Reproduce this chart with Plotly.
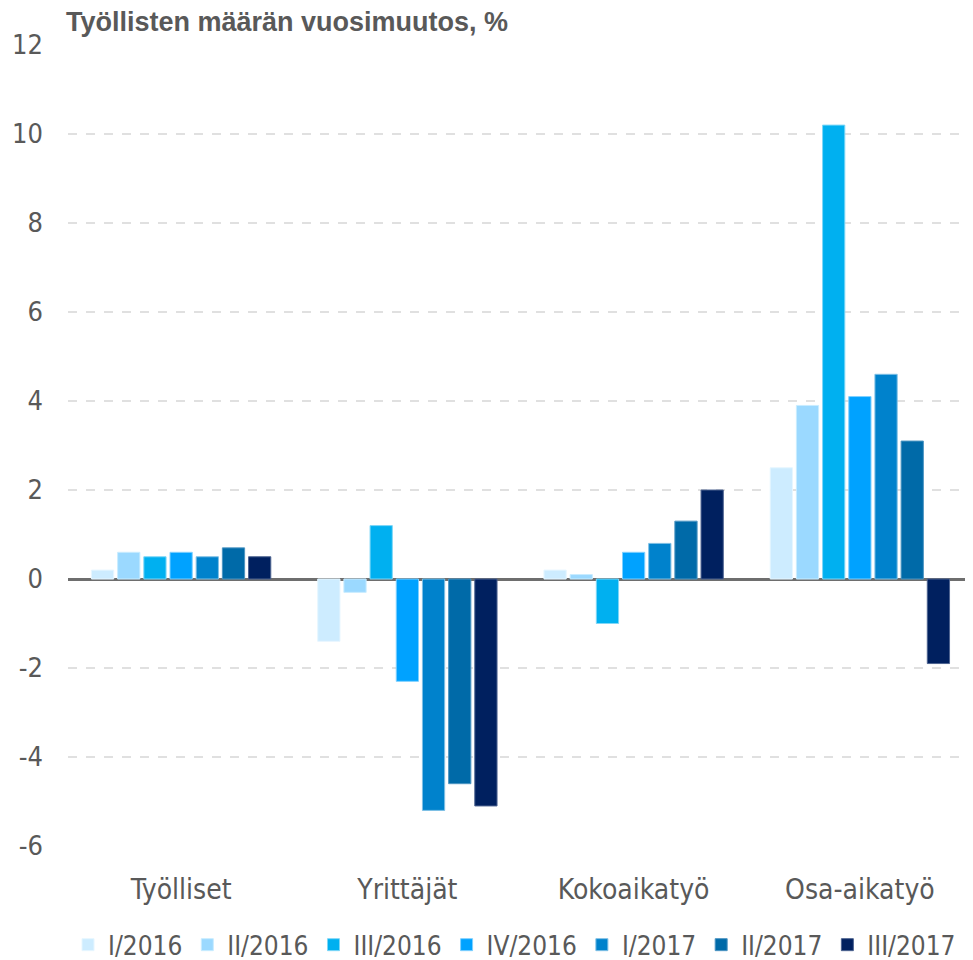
import plotly.graph_objects as go

categories = ["Työlliset", "Yrittäjät", "Kokoaikatyö", "Osa-aikatyö"]
series_names = ["I/2016", "II/2016", "III/2016", "IV/2016", "I/2017", "II/2017", "III/2017"]
v_I_2016 = [0.2, -1.4, 0.2, 2.5]
v_II_2016 = [0.6, -0.3, 0.1, 3.9]
v_III_2016 = [0.5, 1.2, -1.0, 10.2]
v_IV_2016 = [0.6, -2.3, 0.6, 4.1]
v_I_2017 = [0.5, -5.2, 0.8, 4.6]
v_II_2017 = [0.7, -4.6, 1.3, 3.1]
v_III_2017 = [0.5, -5.1, 2.0, -1.9]
series_values = [v_I_2016, v_II_2016, v_III_2016, v_IV_2016, v_I_2017, v_II_2017, v_III_2017]
colors = ["#cdecff", "#9bd9ff", "#00b0f0", "#00a2ff", "#0082cc", "#006aa8", "#00205f"]
line_colors = ["#e6f6ff", "#c9ecff", "#7fd7f7", "#7fd0ff", "#7fc0e5", "#4d95c2", "#4d6390"]
y_ticks = [-6, -4, -2, 0, 2, 4, 6, 8, 10, 12]
y_tick_labels = ["-6", "-4", "-2", "0", "2", "4", "6", "8", "10", "12"]

fig = go.Figure()
for name, vals, c, lc in zip(series_names, series_values, colors, line_colors):
    fig.add_trace(go.Bar(name=name, x=categories, y=vals, marker=dict(color=c, line=dict(color=lc, width=1))))

font_main = "Liberation Sans Narrow, DejaVu Sans Condensed, Liberation Sans, Arial, sans-serif"
fig.update_layout(
    barmode="group", bargap=0.19, bargroupgap=0.15,
    width=965, height=952,
    margin=dict(l=60, r=0, t=37, b=114, autoexpand=False),
    plot_bgcolor="white", paper_bgcolor="white",
    font=dict(family=font_main, size=27, color="#595959"),
    showlegend=True,
    legend=dict(orientation="h", x=0.0, xanchor="left", yref="container", y=0.016, yanchor="middle",
                font=dict(family=font_main, size=26, color="#595959"),
                itemwidth=30, tracegroupgap=0),
    annotations=[dict(text="<b>Työllisten määrän vuosimuutos, %</b>", xref="paper", yref="paper",
                      x=0, y=1, xanchor="left", yanchor="bottom", yshift=6, xshift=-4, showarrow=False,
                      font=dict(family="Liberation Sans, Arial, sans-serif", size=27, color="#595959"))],
)
fig.update_xaxes(showgrid=False, showline=False, ticks="", ticklabelstandoff=24, automargin=False,
                 tickfont=dict(family=font_main, size=28, color="#595959"))
fig.update_yaxes(range=[-6, 12], tickvals=y_ticks, ticktext=y_tick_labels, showgrid=True, gridcolor="#e0e0e0",
                 griddash="dash", gridwidth=1.5, zeroline=True, zerolinecolor="#6e6e6e",
                 zerolinewidth=3, showline=False, ticks="", ticklabelstandoff=24, automargin=False,
                 tickfont=dict(family=font_main, size=27, color="#595959"))
fig.write_html("out.html")
